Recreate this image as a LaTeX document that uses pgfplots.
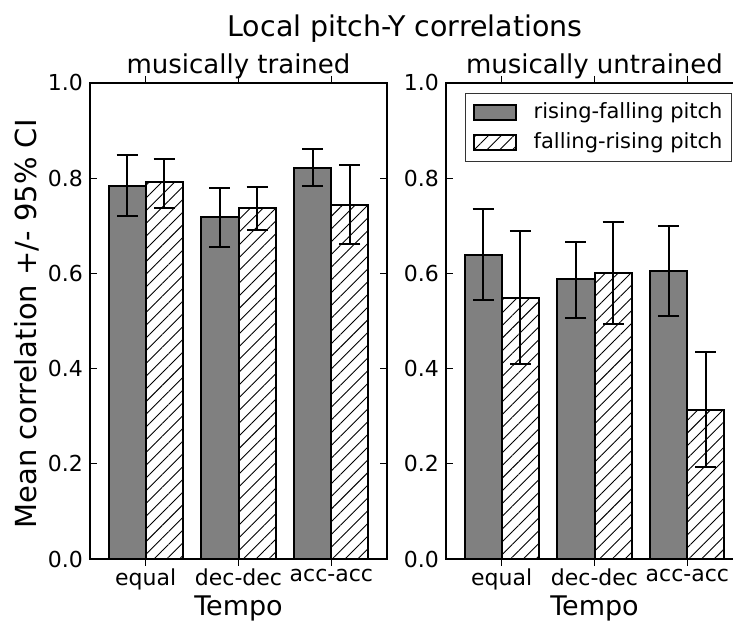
\documentclass[border=0pt]{standalone}
\usepackage{fontspec}
\setmainfont{DejaVu Sans}
\usepackage{pgfplots}
\pgfplotsset{compat=1.18}
\usetikzlibrary{patterns.meta}
\definecolor{bargray}{gray}{0.5}
\definecolor{legframe}{gray}{0.2}

\pgfplotstableread{
x y ep em
0 0.784 0.064 0.063
1 0.718 0.061 0.062
2 0.821 0.040 0.037
}\trainedRF
\pgfplotstableread{
x y ep em
0 0.791 0.050 0.053
1 0.738 0.044 0.047
2 0.744 0.084 0.082
}\trainedFR
\pgfplotstableread{
x y ep em
0 0.639 0.096 0.095
1 0.588 0.077 0.082
2 0.605 0.095 0.095
}\untrainedRF
\pgfplotstableread{
x y ep em
0 0.548 0.141 0.138
1 0.601 0.106 0.107
2 0.314 0.121 0.120
}\untrainedFR

\pgfplotsset{
  panel/.style={
    scale only axis, width=148.5pt, height=238pt,
    anchor=south west,
    xmin=-0.6, xmax=2.6, ymin=0, ymax=1,
    xtick={0,1,2}, xticklabels={equal,dec-dec,acc-acc},
    ytick={0,0.2,0.4,0.6,0.8,1.0},
    yticklabel style={/pgf/number format/.cd,fixed,fixed zerofill,precision=1,assume math mode=true},
    xticklabel style={yshift=2pt},
    tick align=inside, major tick length=3.5pt,
    tick style={line width=0.5pt, black},
    ticklabel style={font=\fontsize{11}{13}\selectfont},
    axis line style={line width=0.6pt},
    xlabel={Tempo},
    xlabel style={font=\fontsize{13.5}{16}\selectfont, at={(axis description cs:0.5,0)}, anchor=base, yshift=-28.5pt},
    ybar, bar width=0.4,
  },
  rfbar/.style={fill=bargray, draw=black, line width=1pt, bar shift=-0.2,
    error bars/.cd, y dir=both, y explicit,
    error mark options={rotate=90, line width=1pt, mark size=5.25pt, black},
    error bar style={line width=1pt, black},
    /pgfplots/.cd,
    legend image code/.code={\draw[fill=bargray, draw=black, line width=1pt] (0pt,-3.75pt) rectangle (21pt,3.75pt);}},
  frbar/.style={draw=black, line width=1pt, bar shift=0.2,
    pattern={Lines[angle=45,distance=4.5pt,line width=0.45pt]},
    error bars/.cd, y dir=both, y explicit,
    error mark options={rotate=90, line width=1pt, mark size=5.25pt, black},
    error bar style={line width=1pt, black},
    /pgfplots/.cd,
    legend image code/.code={\draw[draw=black, line width=1pt, pattern={Lines[angle=45,distance=4.5pt,line width=0.45pt]}] (0pt,-3.75pt) rectangle (21pt,3.75pt);}},
}

\begin{document}
\begin{tikzpicture}
\path[use as bounding box] (0pt,0pt) rectangle (366.5pt,312pt);
\begin{scope}
\clip (0pt,0pt) rectangle (366.5pt,312pt);

\begin{axis}[panel, at={(45pt,32.5pt)}]
\addplot[rfbar] table[x=x, y=y, y error plus=ep, y error minus=em] {\trainedRF};
\addplot[frbar] table[x=x, y=y, y error plus=ep, y error minus=em] {\trainedFR};
\end{axis}

\begin{axis}[panel, at={(223pt,32.5pt)},
  legend style={at={(0.963,0.979)}, anchor=north east, draw=legframe, line width=0.5pt,
    font=\fontsize{10.5}{12}\selectfont, inner xsep=3.5pt, inner ysep=3.5pt, row sep=3pt,
    nodes={inner sep=1pt, text height=7.8pt, text depth=2.2pt},
    /tikz/every odd column/.append style={column sep=7.5pt}},
  legend cell align=left]
\addplot[rfbar] table[x=x, y=y, y error plus=ep, y error minus=em] {\untrainedRF};
\addlegendentry{rising-falling pitch}
\addplot[frbar] table[x=x, y=y, y error plus=ep, y error minus=em] {\untrainedFR};
\addlegendentry{falling-rising pitch}
\end{axis}

\node[anchor=base, font=\fontsize{14.25}{17}\selectfont] at (202.5pt,293.5pt) {Local pitch-Y correlations};
\node[anchor=base, font=\fontsize{13}{15}\selectfont] at (119.25pt,275pt) {musically trained};
\node[anchor=base, font=\fontsize{13}{15}\selectfont] at (297.25pt,275pt) {musically untrained};
\node[rotate=90, anchor=north, inner sep=0pt, font=\fontsize{14.5}{17}\selectfont] at (7pt,150pt) {Mean correlation +/- 95\% CI};
\end{scope}
\end{tikzpicture}
\end{document}
